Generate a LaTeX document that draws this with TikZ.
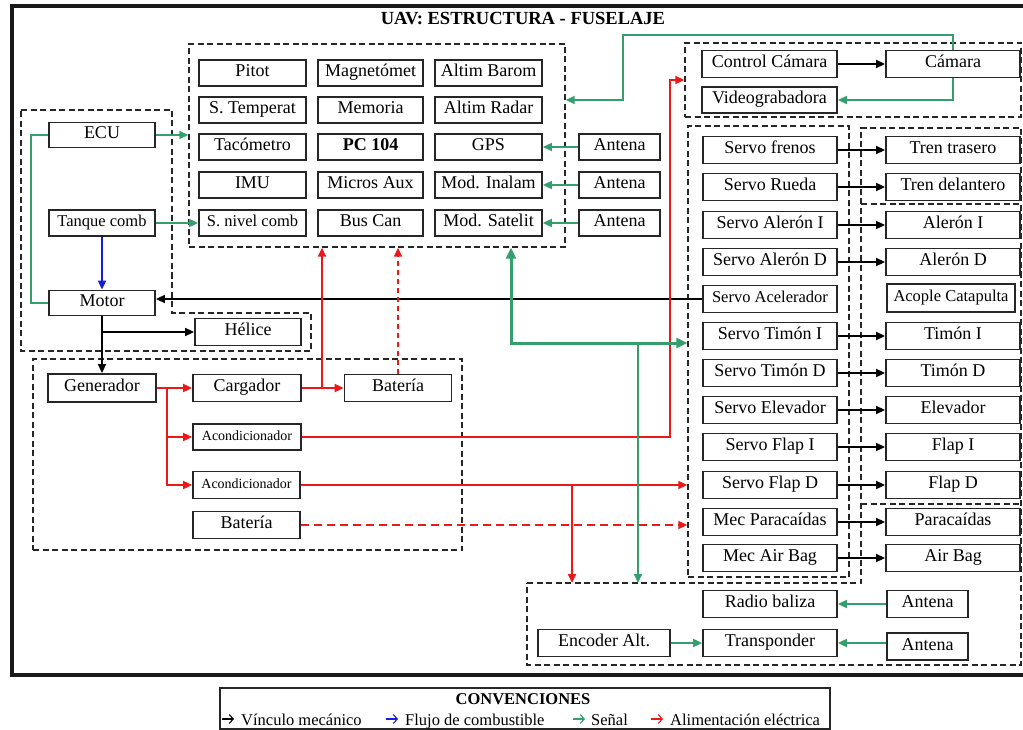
\documentclass[tikz,border=0pt]{standalone}
\usepackage{fontspec}
\setmainfont{Liberation Serif}
\usetikzlibrary{arrows.meta}
\definecolor{sig}{RGB}{52,158,108}
\definecolor{pow}{RGB}{236,24,24}
\definecolor{fuel}{RGB}{20,30,220}
\begin{document}
\begin{tikzpicture}[x=1pt,y=-1pt,
 bx/.style={draw=black!85,line width=1.8pt,fill=white,inner sep=0pt,minimum height=26pt,text height=12pt,text depth=4.5pt,font=\fontsize{18}{20}\selectfont},
 sm/.style={font=\fontsize{16.5}{18}\selectfont},
 xs/.style={font=\fontsize{14}{16}\selectfont},
 grp/.style={draw=black!85,dash pattern=on 6pt off 3.5pt,line width=1.4pt,inner sep=0pt},
 arr/.style={-{Triangle[length=9pt,width=8pt]}},
 mec/.style={draw=black,line width=1.6pt,arr},
 sg/.style={draw=sig,line width=1.8pt,arr},
 pw/.style={draw=pow,line width=1.8pt,arr},
 fl/.style={draw=fuel,line width=1.8pt,arr},
 legar/.style={line width=1.1pt,-{Straight Barb[length=4pt,width=9pt]}}
]
\useasboundingbox (0,0) rectangle (1023,730);
% frame and title
\draw[line width=4pt,black!90] (12,6) rectangle (1040,675);
\node[font=\bfseries\fontsize{18.5}{20}\selectfont,anchor=base] (title) at (523,25) {UAV: ESTRUCTURA - FUSELAJE};

% groups
\node[grp,minimum width=376pt,minimum height=203pt] (sens) at (377,145.5) {};
\draw[grp] (21,110) -- (172,110) -- (172,313) -- (311,313) -- (311,351) -- (21,351) -- cycle;
\node[grp,minimum width=429pt,minimum height=191pt] (elec) at (247.5,454.5) {};
\node[grp,minimum width=336pt,minimum height=74pt] (camg) at (853,80) {};
\node[grp,minimum width=161pt,minimum height=451pt] (servog) at (768.5,351.5) {};
\draw[grp] (527,583) -- (861,583) -- (861,128) -- (1021,128) -- (1021,665) -- (527,665) -- cycle;
\draw[grp] (861,204) -- (1021,204);
\draw[grp] (861,504) -- (1021,504);
\coordinate (btop) at (0,583);

% sensors
\node[bx,minimum width=107pt] (pitot) at (252.5,73) {Pitot};
\node[bx,minimum width=105pt] (mag) at (370.5,73) {Magnetómet};
\node[bx,minimum width=107pt] (altb) at (488.5,73) {Altim Barom};
\node[bx,minimum width=107pt] (stemp) at (252.5,110) {S. Temperat};
\node[bx,minimum width=105pt] (mem) at (370.5,110) {Memoria};
\node[bx,minimum width=107pt] (altr) at (488.5,110) {Altim Radar};
\node[bx,minimum width=107pt] (taco) at (252.5,147) {Tacómetro};
\node[bx,minimum width=105pt] (pc) at (370.5,147) {\textbf{PC 104}};
\node[bx,minimum width=107pt] (gps) at (488.5,147) {GPS};
\node[bx,minimum width=107pt] (imu) at (252.5,185) {IMU};
\node[bx,minimum width=105pt] (micro) at (370.5,185) {Micros Aux};
\node[bx,minimum width=107pt] (inal) at (488.5,185) {Mod. Inalam};
\node[bx,sm,minimum width=107pt] (snc) at (252.5,223) {S. nivel comb};
\node[bx,minimum width=105pt] (bus) at (370.5,223) {Bus Can};
\node[bx,minimum width=107pt] (sat) at (488.5,223) {Mod. Satelit};
\node[bx,minimum width=81pt] (ant1) at (619.5,147) {Antena};
\node[bx,minimum width=81pt] (ant2) at (619.5,185) {Antena};
\node[bx,minimum width=81pt] (ant3) at (619.5,223) {Antena};

% engine
\node[bx,minimum width=106pt,minimum height=25pt] (ecu) at (102,135) {ECU};
\node[bx,sm,minimum width=106pt] (tank) at (102,223) {Tanque comb};
\node[bx,minimum width=106pt,minimum height=25pt] (motor) at (102,303) {Motor};
\node[bx,minimum width=106pt,minimum height=27pt] (helice) at (248,332) {Hélice};

% electrical
\node[bx,minimum width=108pt,minimum height=28pt] (gen) at (102,388) {Generador};
\node[bx,minimum width=108pt,minimum height=27pt] (carg) at (247,388) {Cargador};
\node[bx,minimum width=107pt,minimum height=27pt] (bat1) at (398,388) {Batería};
\node[bx,xs,minimum width=108pt] (ac1) at (247,437) {Acondicionador};
\node[bx,xs,minimum width=107pt,minimum height=27pt] (ac2) at (246.5,485) {Acondicionador};
\node[bx,minimum width=107pt,minimum height=27pt] (bat2) at (246.5,525) {Batería};

% camera
\node[bx,minimum width=135pt,minimum height=27pt] (ccam) at (769.5,64) {Control Cámara};
\node[bx,minimum width=134pt,minimum height=27pt] (cam) at (953,64) {Cámara};
\node[bx,minimum width=135pt] (video) at (769.5,100) {Videograbadora};

% servos and actuators
\foreach \n/\y/\t/\a in {sf/150/Servo frenos/Tren trasero, sr/187/Servo Rueda/Tren delantero,
  sai/225/Servo Alerón I/Alerón I, sad/262/Servo Alerón D/Alerón D,
  sti/336/Servo Timón I/Timón I, std/373/Servo Timón D/Timón D,
  sel/410/Servo Elevador/Elevador, sfi/447/Servo Flap I/Flap I,
  sfd/485/Servo Flap D/Flap D, mpa/522/Mec Paracaídas/Paracaídas, mab/558/Mec Air Bag/Air Bag}{
  \node[bx,minimum width=134pt,minimum height=27pt] (\n) at (770,\y) {\t};
  \node[bx,minimum width=134pt,minimum height=27pt] (\n a) at (953,\y) {\a};
  \draw[mec] (\n.east) -- (\n a.west);
}
\node[bx,sm,minimum width=134pt,minimum height=27pt] (sacel) at (770,299) {Servo Acelerador};
\node[bx,sm,minimum width=128pt,minimum height=28pt] (acople) at (951,298) {Acople Catapulta};

% bottom
\node[bx,minimum width=134pt,minimum height=27pt] (radio) at (770,604) {Radio baliza};
\node[bx,minimum width=134pt,minimum height=27pt] (transp) at (770,643) {Transponder};
\node[bx,minimum width=81pt,minimum height=27pt] (antr) at (927.5,604) {Antena};
\node[bx,minimum width=81pt,minimum height=27pt] (antt) at (927.5,646.5) {Antena};
\node[bx,minimum width=132pt,minimum height=27pt] (enc) at (604,643) {Encoder Alt.};

% connectors: engine
\draw[sg] (ecu.east) -- (ecu.east -| sens.west);
\draw[sg] (tank.east) -- (snc.west);
\draw[fl] (tank.south) -- (motor.north);
\draw[draw=sig,line width=1.8pt] (ecu.west) -- ++(-17,0) |- (motor.west);
\draw[mec] (motor.south) -- (gen.north);
\draw[mec] (motor.south |- helice.west) -- (helice.west);
\draw[mec] (sacel.west) -- (sacel.west -| motor.east);

% electrical
\coordinate (rj) at (167,388);
\draw[pw] (gen.east) -- (carg.west);
\draw[pw] (rj) |- (ac1.west);
\draw[pw] (rj) |- (ac2.west);
\draw[pw] (carg.east) -- (bat1.west);
\coordinate (cb) at (322,388);
\draw[pw] (cb) -- (cb |- sens.south);
\draw[pw,dash pattern=on 5pt off 4pt] (bat1.north) -- (bat1.north |- sens.south);
\coordinate (rr) at (670,80);
\draw[pw] (ac1.east) -| (rr) -- (rr -| camg.west);
\draw[pw] (ac2.east) -- (ac2.east -| servog.west);
\coordinate (rd) at (572,485);
\draw[pw] (rd) -- (rd |- btop);
\draw[pw,dash pattern=on 8pt off 5pt] (bat2.east) -- (bat2.east -| servog.west);

% signal
\coordinate (gs) at (511,343);
\draw[draw=sig,line width=3pt,{Triangle[length=11pt,width=10pt]}-{Triangle[length=11pt,width=10pt]}] (gs |- sens.south) -- (gs) -- (gs -| servog.west);
\coordinate (gd) at (638,343);
\draw[sg] (gd) -- (gd |- btop);
\coordinate (cg) at (623,35);
\draw[sg] (cam.north) |- (cg) -- (cg |- video.east) -- (sens.east |- video.east);
\draw[sg] (cam.south) |- (video.east);
\draw[mec] (ccam.east) -- (cam.west);
\draw[sg] (ant1.west) -- (gps.east);
\draw[sg] (ant2.west) -- (inal.east);
\draw[sg] (ant3.west) -- (sat.east);
\draw[sg] (antr.west) -- (radio.east);
\draw[sg] (antt.west |- transp.east) -- (transp.east);
\draw[sg] (enc.east) -- (transp.west);

% legend
\node[draw=black!85,line width=1.2pt,minimum width=610pt,minimum height=41pt,inner sep=0pt] (leg) at (525,708.5) {};
\node[font=\bfseries\fontsize{16.5}{18}\selectfont,anchor=base] (legt) at (523,704) {CONVENCIONES};
\draw[legar,black] (222,719) -- (234,719);
\draw[legar,fuel] (386,719) -- (398,719);
\draw[legar,sig] (573,719) -- (585,719);
\draw[legar,pow] (651,719) -- (663,719);
\begin{scope}[every node/.style={anchor=base west,inner sep=0pt,font=\fontsize{16.5}{18}\selectfont}]
\node (l1) at (241,725) {Vínculo mecánico};
\node (l2) at (405,725) {Flujo de combustible};
\node (l3) at (591,725) {Señal};
\node (l4) at (670,725) {Alimentación eléctrica};
\end{scope}
\end{tikzpicture}
\end{document}
